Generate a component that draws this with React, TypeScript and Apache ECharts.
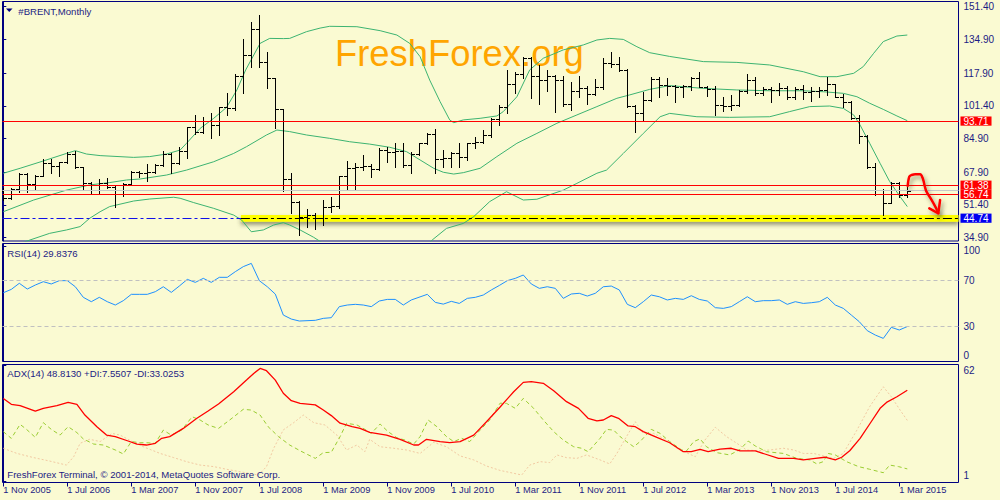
import React, { useEffect, useRef } from "react";
import * as echarts from "echarts";

// ---------- data ----------
const xTickIdx = [0, 8, 16, 24, 32, 40, 48, 56, 64, 72, 80, 88, 96, 104, 112];
const xTickLabels = [
  "1 Nov 2005", "1 Jul 2006", "1 Mar 2007", "1 Nov 2007", "1 Jul 2008", "1 Mar 2009", "1 Nov 2009",
  "1 Jul 2010", "1 Mar 2011", "1 Nov 2011", "1 Jul 2012", "1 Mar 2013", "1 Nov 2013", "1 Jul 2014", "1 Mar 2015",
];
const priceTicks = [34.9, 51.4, 67.9, 84.9, 101.4, 117.9, 134.9, 151.4];
const rsiTicks = [0, 30, 70, 100];
const adxTicks = [1, 62];

const opens = [
  58.5, 54.7, 59.3, 67.0, 61.8, 66.2, 72.4, 71.0, 72.9, 77.1,
  70.4, 62.7, 58.9, 62.3, 60.6, 56.9, 61.8, 68.2, 67.4, 67.9,
  71.6, 77.1, 72.4, 78.8, 90.6, 88.4, 93.5, 91.7, 100.6, 100.1,
  116.4, 127.0, 140.0, 123.7, 115.3, 99.6, 64.3, 53.1, 45.5, 46.3,
  45.0, 50.5, 51.0, 66.0, 69.9, 70.7, 71.2, 69.4, 79.1, 78.3,
  78.8, 71.6, 77.1, 82.5, 87.2, 74.4, 75.0, 77.8, 75.4, 82.5,
  83.2, 86.7, 94.6, 100.6, 112.4, 117.5, 125.3, 116.4, 114.4, 116.4,
  114.4, 102.2, 108.9, 110.2, 107.2, 110.7, 122.8, 122.5, 119.5, 101.3,
  97.6, 104.3, 114.8, 111.9, 111.4, 111.0, 111.4, 115.3, 111.1, 109.7,
  101.8, 101.3, 101.8, 109.0, 114.4, 107.7, 109.7, 109.4, 110.2, 106.0,
  109.7, 108.5, 109.0, 109.4, 112.2, 106.0, 103.5, 95.1, 86.2, 70.4,
  56.8, 52.5, 62.6, 56.4,
];
const highs = [
  60.1, 59.8, 67.4, 67.4, 66.5, 74.4, 74.4, 73.2, 77.9, 78.8,
  70.8, 62.9, 64.3, 64.8, 61.5, 62.3, 68.7, 68.7, 71.9, 71.9,
  78.8, 77.4, 80.8, 90.9, 96.8, 95.9, 97.6, 101.0, 107.7, 117.5,
  134.9, 143.8, 147.2, 128.4, 115.6, 100.0, 67.7, 53.5, 49.2, 47.5,
  53.9, 55.6, 66.2, 73.6, 72.7, 76.4, 72.1, 80.0, 80.5, 82.5,
  82.5, 78.3, 82.8, 87.5, 89.5, 79.1, 78.3, 82.8, 82.8, 85.8,
  89.2, 95.1, 101.8, 119.5, 118.6, 126.2, 126.2, 122.0, 119.5, 116.9,
  116.4, 113.6, 116.4, 111.4, 114.8, 125.4, 128.4, 125.8, 119.8, 101.6,
  108.5, 116.1, 116.0, 115.3, 111.9, 111.9, 115.8, 118.6, 111.4, 111.4,
  106.0, 106.9, 109.4, 117.5, 116.1, 111.1, 110.7, 112.7, 111.4, 111.1,
  111.9, 110.7, 110.7, 115.8, 112.4, 107.4, 103.8, 96.8, 86.7, 72.7,
  59.4, 62.9, 62.9, 60.5,
];
const lows = [
  53.9, 54.4, 58.1, 57.8, 58.9, 66.0, 67.4, 66.2, 72.4, 69.9,
  59.5, 56.9, 56.9, 59.8, 50.6, 55.9, 61.5, 65.7, 63.7, 67.4,
  71.0, 67.7, 72.1, 75.3, 87.2, 87.5, 85.0, 86.7, 96.8, 99.3,
  108.0, 121.1, 121.1, 110.2, 90.0, 58.6, 47.2, 36.3, 40.5, 39.1,
  41.3, 48.0, 49.7, 58.9, 59.3, 69.0, 65.7, 69.0, 73.2, 70.7,
  70.7, 67.7, 76.6, 82.1, 67.7, 70.7, 70.7, 70.7, 74.1, 80.0,
  82.5, 85.8, 91.7, 97.6, 107.7, 115.3, 105.2, 102.3, 109.0, 98.5,
  101.3, 99.3, 105.7, 102.3, 106.9, 110.0, 121.1, 119.1, 101.0, 88.4,
  94.1, 103.8, 106.0, 106.9, 103.5, 105.7, 109.4, 110.7, 106.4, 96.8,
  98.9, 99.3, 101.3, 107.7, 106.9, 106.9, 103.5, 106.9, 104.7, 104.7,
  104.7, 104.0, 106.0, 106.9, 105.7, 101.0, 94.6, 82.8, 69.9, 56.4,
  46.3, 52.2, 55.6, 55.5,
];
const closes = [
  54.7, 59.3, 67.0, 61.8, 66.2, 72.4, 71.0, 72.9, 77.1, 70.4,
  62.7, 58.9, 62.3, 60.6, 56.9, 61.8, 68.2, 67.4, 67.9, 71.6,
  77.1, 72.4, 78.8, 90.6, 88.4, 93.5, 91.7, 100.6, 100.1, 116.4,
  127.0, 140.0, 123.7, 115.3, 99.6, 64.3, 53.1, 45.5, 46.3, 45.0,
  50.5, 51.0, 66.0, 69.9, 70.7, 71.2, 69.4, 79.1, 78.3, 78.8,
  71.6, 77.1, 82.5, 87.2, 74.4, 75.0, 77.8, 75.4, 82.5, 83.2,
  86.7, 94.6, 100.6, 112.4, 117.5, 125.3, 116.4, 114.4, 116.4, 114.4,
  102.2, 108.9, 110.2, 107.2, 110.7, 122.8, 122.5, 119.5, 101.3, 97.6,
  104.3, 114.8, 111.9, 111.4, 111.0, 111.4, 115.3, 111.1, 109.7, 101.8,
  101.3, 101.8, 109.0, 114.4, 107.7, 109.7, 109.4, 110.2, 106.0, 109.7,
  108.5, 109.0, 109.4, 112.2, 106.0, 103.5, 95.1, 86.2, 70.4, 56.8,
  52.5, 62.6, 56.4, 58.6,
];

const bbUpper = [
  [0, 67.4], [2.1, 69.9], [5, 73.6], [7.9, 77.4], [9, 78.8], [10.4, 77.1], [12.1, 76.3], [16.3, 75.4],
  [18.3, 75.8], [20.4, 77.1], [22.1, 79.1], [22.9, 82.5], [24.6, 90.0], [26.3, 95.1], [27.9, 100.6],
  [29.2, 109.4], [30.3, 119.5], [32.1, 132.9], [33.3, 135.4], [35, 135.3], [35.8, 135.4], [37.9, 138.8],
  [39.6, 140.6], [40.8, 141.5], [44.2, 141.3], [47.1, 139.3], [49.2, 137.1], [50.8, 132.9], [52.1, 126.2],
  [53.3, 114.4], [54.6, 103.5], [55.8, 94.3], [56.3, 92.9], [57.5, 94.3], [59.6, 95.1], [61.7, 96.3],
  [62.5, 98.5], [64.2, 106.0], [65.8, 119.5], [67.5, 125.4], [70, 129.6], [72.5, 132.1], [74.2, 134.6],
  [75.8, 135.4], [77.5, 134.9], [79.2, 131.2], [80.8, 128.2], [83.3, 126.3], [87.5, 123.7], [91.7, 123.3],
  [95.8, 122.0], [100, 118.6], [102.1, 116.1], [104.2, 116.1], [106.3, 117.8], [107.5, 121.2],
  [108.8, 127.9], [110, 133.8], [111.7, 136.6], [113, 137.1],
];
const bbMiddle = [
  [0, 48.0], [3.8, 53.9], [7.9, 58.9], [10.8, 61.5], [13.3, 62.7], [15.4, 64.0], [17.1, 64.5], [20.4, 66.5],
  [22.9, 69.0], [26.3, 73.2], [28.8, 77.4], [30.4, 80.8], [32.9, 86.7], [34.2, 89.2], [35.8, 88.4],
  [37.9, 86.7], [40.8, 85.0], [43.3, 83.3], [45.8, 82.1], [48.3, 80.5], [50.4, 78.3], [52.1, 74.1],
  [53.8, 69.9], [55, 67.9], [56.3, 67.0], [57.5, 67.7], [59.6, 69.9], [61.7, 75.8], [64.2, 82.5],
  [66.7, 87.5], [69.2, 92.6], [71.7, 96.8], [74.2, 101.0], [76.7, 105.2], [78.3, 106.9], [80.8, 109.7],
  [83.3, 111.6], [87.5, 110.2], [91.7, 109.4], [95.8, 109.0], [100, 109.0], [102.5, 108.5], [105, 107.7],
  [106.7, 106.0], [108.3, 102.7], [110, 99.6], [111.7, 96.3], [113, 93.9],
];
const bbLower = [
  [0, 29.0], [3.3, 33.7], [5.8, 37.1], [7.9, 38.8], [9.6, 40.5], [10.8, 44.7], [12.1, 48.0], [13.3, 50.6],
  [16.3, 53.4], [18.3, 54.4], [21.3, 55.3], [22.1, 54.8], [23.8, 52.6], [26.3, 49.7], [28.8, 46.3],
  [29.8, 43.8], [31, 37.9], [32.5, 38.8], [33.8, 41.3], [35, 42.5], [35.8, 41.3], [37.1, 38.8],
  [38.8, 35.1], [40, 32.0], [42, 28.0], [45, 25.0], [48, 23.5], [51, 25.0], [52.5, 29.0], [53.6, 33.7],
  [55.4, 39.6], [57.5, 42.1], [58.8, 45.5], [60.8, 53.1], [62.9, 58.1], [65, 53.9], [66.7, 54.3],
  [70, 58.9], [71.7, 62.3], [74.2, 67.4], [75.4, 69.0], [77.5, 77.4], [80, 87.5], [82.1, 95.9],
  [83.3, 97.6], [86.7, 95.9], [90.8, 95.6], [95.8, 95.9], [98.3, 98.5], [100.8, 101.0], [103.3, 101.3],
  [105, 100.1], [106.3, 96.8], [107.1, 91.7], [108.3, 82.5], [109.6, 72.4], [110.8, 63.2], [112.1, 55.6],
  [113, 50.6],
];

const rsi = [
  [0, 59.2], [1, 62.1], [2, 67.4], [3, 62.4], [4, 65.9], [5, 68.8], [6, 66.8], [7, 69.7], [8, 69.7],
  [9, 64.4], [10, 55.2], [11, 51.4], [12, 55.2], [13, 51.4], [14, 48.5], [15, 52.3], [16, 57.8],
  [17, 57.8], [18, 57.8], [19, 60.1], [20, 64.4], [21, 59.5], [22, 65.0], [23, 70.8], [24, 68.2],
  [25, 71.7], [26, 68.2], [27, 72.6], [28, 72.6], [29, 77.5], [30, 81.9], [31, 84.7], [32, 69.7],
  [33, 64.4], [34, 58.0], [35, 39.8], [36, 36.3], [37, 34.6], [39, 35.2], [40, 36.9], [41, 37.5],
  [42, 47.1], [43, 48.5], [44, 49.1], [45, 48.5], [46, 47.1], [47, 52.0], [48, 53.4], [49, 53.4],
  [50, 48.5], [51, 52.9], [53, 57.8], [54, 50.8], [55, 49.3], [56, 51.7], [57, 49.9], [58, 54.3],
  [59, 55.2], [60, 57.2], [61, 61.6], [62, 65.5], [63, 69.7], [64, 71.7], [65, 74.6], [66, 66.8],
  [67, 63.0], [68, 64.4], [69, 63.0], [70, 54.3], [71, 58.1], [72, 58.7], [73, 56.3], [74, 58.7],
  [75, 64.4], [76, 65.0], [77, 61.6], [78, 49.1], [79, 46.2], [80, 51.4], [81, 57.2], [82, 55.7],
  [83, 52.9], [84, 54.3], [85, 53.4], [86, 56.6], [87, 53.4], [88, 52.0], [89, 46.2], [90, 45.6],
  [91, 47.1], [92, 51.4], [93, 55.7], [94, 51.4], [95, 52.3], [96, 52.3], [97, 52.9], [98, 49.1],
  [99, 51.4], [100, 49.9], [101, 50.5], [102, 51.4], [103, 55.2], [104, 48.5], [105, 45.6], [106, 39.8],
  [107, 34.0], [108, 26.2], [109, 22.4], [110, 19.5], [111, 29.1], [112, 26.8], [113, 29.8],
];

const adx = [
  [0, 44.5], [1, 41.4], [2.1, 40.7], [4, 37.9], [5, 39.3], [6.7, 40.7], [8.1, 42.4], [9.2, 41.4],
  [10.2, 35.8], [11.7, 29.7], [12.9, 25.3], [14, 24.5], [15.6, 22.2], [16.7, 20.6], [17.9, 20.1],
  [19, 21.0], [19.8, 23.6], [20.8, 24.5], [22.5, 28.8], [24.2, 34.1], [25.6, 37.9], [26.9, 41.6],
  [28.8, 48.0], [30.4, 54.1], [31.3, 57.6], [32.1, 60.2], [32.9, 59.0], [34, 54.1], [35, 47.2],
  [36, 43.3], [37.1, 41.9], [39, 41.1], [40, 38.4], [41, 35.5], [42.1, 31.5], [43.6, 29.7], [44.6, 28.8],
  [45.8, 26.7], [47.9, 25.3], [49.6, 23.1], [51.3, 20.1], [51.9, 20.1], [52.9, 23.1], [54.6, 21.9],
  [55.8, 21.3], [57.1, 21.9], [58.8, 25.3], [60.4, 32.3], [62.1, 40.0], [63.8, 48.0], [65, 52.9],
  [66, 53.3], [67.5, 52.4], [68.8, 48.5], [70.4, 42.8], [71.9, 39.3], [73.1, 34.1], [74.2, 32.7],
  [75, 33.2], [76, 35.5], [76.9, 34.1], [78.1, 30.1], [79, 29.7], [80, 27.1], [81.7, 24.1], [83.3, 21.3],
  [85, 16.6], [86, 16.6], [87.1, 17.8], [88.1, 16.6], [89.6, 18.0], [91, 18.4], [92.1, 17.0], [94, 17.0],
  [95.2, 15.4], [96.9, 13.1], [98.8, 13.1], [100, 12.3], [101.5, 13.1], [102.7, 13.7], [104, 12.3],
  [104.8, 13.7], [105.8, 17.1], [107.1, 23.6], [108.3, 31.1], [109.6, 39.3], [110.4, 42.4], [111.7, 45.4],
  [113, 48.8],
];
const plusDI = [
  [0, 27.1], [1, 23.6], [2.1, 30.9], [2.9, 28.3], [4, 24.1], [5, 31.8], [6, 28.3], [7.1, 25.3], [8.1, 29.7],
  [9.2, 26.6], [10, 23.3], [11.3, 20.6], [12.5, 20.1], [14, 17.5], [15, 15.4], [16, 21.9], [17.1, 21.3],
  [17.9, 21.3], [19, 21.0], [20, 27.9], [21, 25.3], [22.3, 27.9], [23.6, 34.9], [24.6, 33.2], [25.6, 30.6],
  [26.9, 28.8], [28.3, 33.2], [30, 38.8], [31, 38.4], [32.1, 35.8], [33.1, 29.7], [34.4, 24.5], [35.8, 20.1],
  [37.1, 17.1], [39, 13.1], [40, 16.1], [41, 16.3], [42.1, 24.5], [42.9, 31.5], [44.2, 30.6], [45.2, 28.3],
  [46, 26.2], [47.1, 31.1], [48.1, 27.1], [49.2, 23.9], [50.2, 22.7], [51.3, 20.6], [52.1, 24.5],
  [53.1, 33.2], [54.2, 29.7], [55.4, 24.5], [56.3, 21.9], [57.3, 23.6], [58.3, 21.9], [59.6, 27.9],
  [60.8, 33.2], [62.1, 42.0], [62.9, 41.9], [64, 39.3], [65, 44.5], [66.3, 39.3], [67.5, 33.2], [68.8, 27.1],
  [70, 22.7], [71.3, 19.2], [72.3, 18.4], [73.1, 16.6], [74.6, 23.6], [75.4, 28.3], [76.3, 27.9], [77.1, 24.5],
  [77.9, 21.9], [78.8, 19.2], [79.6, 21.9], [81, 28.3], [82.1, 26.2], [83.3, 21.9], [84.8, 17.5], [85.4, 17.0],
  [86.3, 21.9], [87.1, 23.3], [87.9, 19.2], [89.2, 16.1], [90.8, 14.9], [92.1, 17.8], [93.1, 22.2], [94, 19.6],
  [95.4, 16.6], [97.5, 15.7], [99.2, 13.1], [100.8, 12.3], [101.7, 10.2], [102.5, 11.4], [103.1, 15.7],
  [104, 14.9], [105.4, 11.4], [106.9, 8.8], [108.3, 7.4], [110, 5.6], [110.8, 9.6], [111.9, 8.8], [113, 7.6],
];
const minusDI = [
  [0, 18.4], [1.7, 15.7], [3.8, 13.5], [5.8, 11.7], [7.9, 9.6], [8.8, 14.0], [9.6, 21.0], [10.8, 23.1],
  [12.1, 21.9], [13.6, 26.2], [14.6, 25.3], [16, 22.2], [17.5, 19.2], [19.6, 15.7], [21.3, 13.5], [22.9, 11.4],
  [24.6, 9.6], [26.3, 8.8], [27.9, 7.4], [29.6, 6.1], [31.9, 4.4], [32.9, 8.8], [33.8, 18.4], [35, 28.0],
  [36.3, 31.8], [37.5, 35.8], [38.8, 31.8], [40.2, 30.6], [41.7, 25.3], [42.9, 17.5], [44.2, 20.1],
  [45.2, 16.6], [45.8, 23.1], [47.1, 19.2], [48.8, 18.4], [50.4, 17.5], [52.1, 15.7], [53.8, 21.5],
  [55.4, 19.2], [57.1, 14.4], [58.8, 12.3], [60.4, 9.1], [62.1, 6.8], [63.8, 5.3], [64.8, 4.4], [65.8, 9.6],
  [67.1, 11.4], [68.3, 10.9], [69.2, 14.9], [70.4, 13.5], [71.7, 13.1], [72.9, 14.9], [74.6, 12.3],
  [75.8, 10.2], [76.7, 15.7], [77.9, 24.5], [79, 32.3], [80, 26.2], [81.3, 26.2], [82.9, 22.7], [84.2, 18.4],
  [85.6, 15.7], [86.5, 14.0], [87.7, 22.7], [89, 29.4], [90.4, 24.5], [91.7, 21.0], [92.9, 17.5], [94.4, 17.1],
  [95.8, 17.5], [97.5, 18.4], [98.8, 17.5], [100, 15.7], [101.3, 15.7], [102.5, 14.4], [103.8, 13.1],
  [105, 15.7], [106.7, 27.9], [108.3, 40.2], [110, 50.6], [111, 45.4], [112.1, 38.4], [113, 33.0],
];

const redLevels = [93.71, 61.38, 56.74];
const supportLevel = 44.74;
const lastPrice = 58.6;
const supportZone = [42.95, 46.35];
const zoneStartIdx = 29.7;
const arrowPath = [
  [113.05, 61.0], [113.25, 65.7], [113.55, 66.5], [114.0, 66.9], [114.6, 66.9], [114.93, 64.9],
  [115.2, 60.6], [115.4, 58.1], [116.05, 53.9], [116.68, 49.2], [116.88, 47.2],
];
const arrowHead = [[115.75, 49.7], [116.88, 47.2], [117.1, 53.9]];

// ---------- styling ----------
const NAVY = "#000080";
const TXT = "#1c1c84";
const BG = "#FAFAD2";
const FONT = '"Liberation Sans", Arial, sans-serif';
const GREEN = "#3CB371";
const X_MIN = -0.1;
const X_MAX = 119.4;

function buildOption() {
  const ohlc = opens.map((o, i) => [i, o, highs[i], lows[i], closes[i]]);
  const lvLabel = (bg: string, value: number) => ({
    show: true,
    position: "end" as const,
    distance: 2,
    formatter: value.toFixed(2),
    backgroundColor: bg,
    color: "#ffffff",
    fontSize: 10,
    fontFamily: FONT,
    padding: [0, 3, 0, 3],
    lineHeight: 9.2,
  });
  const dashDot = [9, 3, 3, 3];
  const arrowStyle = {
    color: "#FF0000", width: 2.5, cap: "round", join: "round",
    shadowColor: "rgba(70,70,40,0.55)", shadowBlur: 4, shadowOffsetX: 2, shadowOffsetY: 3,
  };

  const xAxisBase = (i: number) => ({
    type: "value",
    gridIndex: i,
    min: X_MIN,
    max: X_MAX,
    show: true,
    splitLine: { show: false },
    axisLine: { show: false },
    axisTick: {
      show: i === 2,
      customValues: xTickIdx,
      length: 4,
      lineStyle: { color: NAVY },
    },
    axisLabel: {
      show: i === 2,
      customValues: xTickIdx,
      formatter: (v: number) => xTickLabels[xTickIdx.indexOf(Math.round(v))] || "",
      align: "left",
      margin: 3,
      color: TXT,
      fontSize: 9.3,
      fontFamily: FONT,
    },
  });

  return {
    animation: false,
    backgroundColor: BG,
    textStyle: { fontFamily: FONT },
    grid: [
      { left: 2.5, top: 1.5, width: 956, height: 239.5, show: true, borderColor: NAVY, borderWidth: 1, backgroundColor: "transparent" },
      { left: 2.5, top: 243.5, width: 956, height: 118, show: true, borderColor: NAVY, borderWidth: 1, backgroundColor: "transparent" },
      { left: 2.5, top: 364.5, width: 956, height: 118, show: true, borderColor: NAVY, borderWidth: 1, backgroundColor: "transparent" },
    ],
    xAxis: [xAxisBase(0), xAxisBase(1), xAxisBase(2)],
    yAxis: [
      {
        type: "value", gridIndex: 0, position: "right", min: 33.236, max: 154.01,
        splitLine: { show: false },
        axisLine: { show: true, lineStyle: { color: NAVY } },
        axisTick: { show: true, customValues: priceTicks, length: 3, lineStyle: { color: NAVY } },
        axisLabel: {
          customValues: priceTicks, formatter: (v: number) => v.toFixed(2),
          margin: 5, color: TXT, fontSize: 10, fontFamily: FONT,
        },
      },
      {
        type: "value", gridIndex: 1, position: "right", min: -0.6, max: 102,
        splitLine: { show: false },
        axisLine: { show: true, lineStyle: { color: NAVY } },
        axisTick: { show: true, customValues: rsiTicks, length: 3, lineStyle: { color: NAVY } },
        axisLabel: {
          customValues: rsiTicks,
          formatter: (v: number) => (v === 100 ? "{t|100}" : v === 0 ? "{b|0}" : String(v)),
          rich: {
            t: { padding: [8.5, 0, 0, 0], color: TXT, fontSize: 10, fontFamily: FONT },
            b: { padding: [0, 0, 10, 0], color: TXT, fontSize: 10, fontFamily: FONT },
          },
          margin: 5, color: TXT, fontSize: 10, fontFamily: FONT,
        },
      },
      {
        type: "value", gridIndex: 2, position: "right", min: 0.476, max: 62.26,
        splitLine: { show: false },
        axisLine: { show: true, lineStyle: { color: NAVY } },
        axisTick: { show: true, customValues: adxTicks, length: 3, lineStyle: { color: NAVY } },
        axisLabel: {
          customValues: adxTicks,
          formatter: (v: number) => (v === 62 ? "{t|62}" : "{b|1}"),
          rich: {
            t: { padding: [12, 0, 0, 0], color: TXT, fontSize: 10, fontFamily: FONT },
            b: { padding: [0, 0, 11.5, 0], color: TXT, fontSize: 10, fontFamily: FONT },
          },
          margin: 5, color: TXT, fontSize: 10, fontFamily: FONT,
        },
      },
    ],
    graphic: [
      {
        type: "text", z: 0, x: 335, y: 53.5, silent: true,
        style: { text: "FreshForex.org", fill: "#FFA500", fontSize: 36.4, fontFamily: FONT, align: "left", verticalAlign: "middle" },
      },
      { type: "polygon", z: 50, silent: true, shape: { points: [[6, 8.5], [12.5, 8.5], [9.25, 12]] }, style: { fill: NAVY } },
      {
        type: "text", z: 50, x: 18.3, y: 11, silent: true,
        style: { text: "#BRENT,Monthly", fill: TXT, fontSize: 9.6, fontFamily: FONT, verticalAlign: "middle" },
      },
      {
        type: "text", z: 50, x: 7.3, y: 253, silent: true,
        style: { text: "RSI(14) 29.8376", fill: TXT, fontSize: 9.6, fontFamily: FONT, verticalAlign: "middle" },
      },
      {
        type: "text", z: 50, x: 7.3, y: 373.6, silent: true,
        style: { text: "ADX(14) 48.8130 +DI:7.5507 -DI:33.0253", fill: TXT, fontSize: 9.6, fontFamily: FONT, verticalAlign: "middle" },
      },
      {
        type: "text", z: 50, x: 7.3, y: 474.6, silent: true,
        style: { text: "FreshForex Terminal, \u00A9 2001-2014, MetaQuotes Software Corp.", fill: TXT, fontSize: 9.6, fontFamily: FONT, verticalAlign: "middle" },
      },
    ],
    series: [
      // yellow support zone
      {
        type: "line", xAxisIndex: 0, yAxisIndex: 0, data: [], z: 1, silent: true,
        markArea: {
          silent: true,
          itemStyle: { color: "#FFFF00", shadowColor: "rgba(60,60,40,0.55)", shadowBlur: 4, shadowOffsetY: 3 },
          data: [[{ coord: [zoneStartIdx, supportZone[1]] }, { coord: [X_MAX, supportZone[0]] }]],
        },
      },
      // level lines
      {
        type: "line", xAxisIndex: 0, yAxisIndex: 0, data: [], z: 2, silent: true,
        markLine: {
          silent: true, symbol: "none", animation: false,
          data: [
            { yAxis: lastPrice, lineStyle: { color: "#C8C8C8", width: 1, type: "solid" }, label: { show: false } },
            ...redLevels.map((v) => ({ yAxis: v, lineStyle: { color: "#FF0000", width: 1, type: "solid" }, label: lvLabel("#FF0000", v) })),
            [
              { coord: [X_MIN, supportLevel], lineStyle: { color: "#1010E8", width: 1, type: dashDot }, label: { show: false } },
              { coord: [zoneStartIdx, supportLevel], lineStyle: { color: "#1010E8", width: 1, type: dashDot }, label: { show: false } },
            ],
            [
              { coord: [zoneStartIdx, supportLevel], lineStyle: { color: "#000000", width: 1, type: dashDot }, label: lvLabel("#0000F0", supportLevel) },
              { coord: [X_MAX, supportLevel], lineStyle: { color: "#000000", width: 1, type: dashDot }, label: lvLabel("#0000F0", supportLevel) },
            ],
          ],
        },
      },
      // Bollinger bands
      ...[bbUpper, bbMiddle, bbLower].map((d) => ({
        type: "line", xAxisIndex: 0, yAxisIndex: 0, data: d, z: 3, silent: true,
        symbol: "none", lineStyle: { color: GREEN, width: 1 },
      })),
      // OHLC bars
      {
        type: "custom", xAxisIndex: 0, yAxisIndex: 0, z: 4, silent: true, clip: true,
        encode: { x: 0, y: [1, 2, 3, 4] },
        data: ohlc,
        renderItem: (_params: any, api: any) => {
          const x = api.value(0);
          const pO = api.coord([x, api.value(1)]);
          const pH = api.coord([x, api.value(2)]);
          const pL = api.coord([x, api.value(3)]);
          const pC = api.coord([x, api.value(4)]);
          const cx = Math.round(pO[0]) + 0.5;
          const yo = Math.round(pO[1]) + 0.5;
          const yc = Math.round(pC[1]) + 0.5;
          const s = { stroke: "#000000", lineWidth: 1 };
          return {
            type: "group",
            children: [
              { type: "line", shape: { x1: cx, y1: Math.round(pH[1]), x2: cx, y2: Math.round(pL[1]) + 1 }, style: s },
              { type: "line", shape: { x1: cx - 3.5, y1: yo, x2: cx, y2: yo }, style: s },
              { type: "line", shape: { x1: cx, y1: yc, x2: cx + 3.5, y2: yc }, style: s },
            ],
          };
        },
      },
      // hand-drawn red arrow
      {
        type: "line", xAxisIndex: 0, yAxisIndex: 0, data: arrowPath, z: 6, silent: true,
        symbol: "none", smooth: 0.35, lineStyle: arrowStyle,
      },
      {
        type: "line", xAxisIndex: 0, yAxisIndex: 0, data: arrowHead, z: 6, silent: true,
        symbol: "none", lineStyle: arrowStyle,
      },
      // RSI
      {
        type: "line", xAxisIndex: 1, yAxisIndex: 1, data: rsi, z: 3, silent: true,
        symbol: "none", lineStyle: { color: "#1E90FF", width: 1 },
        markLine: {
          silent: true, symbol: "none", label: { show: false },
          lineStyle: { color: "#C0C0C0", width: 1, type: [4, 3] },
          data: [{ yAxis: 70 }, { yAxis: 30 }],
        },
      },
      // ADX
      {
        type: "line", xAxisIndex: 2, yAxisIndex: 2, data: minusDI, z: 2, silent: true,
        symbol: "none", lineStyle: { color: "#F2C9A2", width: 1, type: [2, 2] },
      },
      {
        type: "line", xAxisIndex: 2, yAxisIndex: 2, data: plusDI, z: 3, silent: true,
        symbol: "none", lineStyle: { color: "#9ACD32", width: 1, type: [4, 3] },
      },
      {
        type: "line", xAxisIndex: 2, yAxisIndex: 2, data: adx, z: 4, silent: true,
        symbol: "none", lineStyle: { color: "#FF0000", width: 1.3 },
      },
    ],
  };
}

export default function App() {
  const ref = useRef<HTMLDivElement>(null);
  useEffect(() => {
    if (!ref.current) return;
    const chart = echarts.init(ref.current, null, { renderer: "svg" });
    chart.setOption(buildOption() as any);
    return () => chart.dispose();
  }, []);
  return (
    <div
      ref={ref}
      style={{ position: "fixed", left: 0, top: 0, width: 1000, height: 500, background: BG }}
    />
  );
}
